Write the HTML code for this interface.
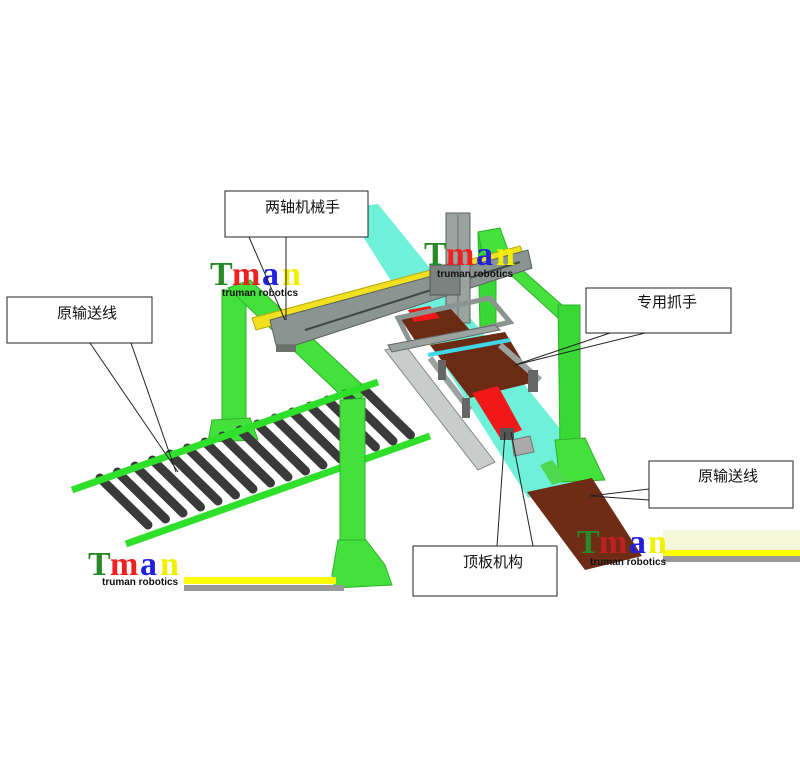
<!DOCTYPE html>
<html><head><meta charset="utf-8"><style>
html,body{margin:0;padding:0;background:#fff;width:800px;height:766px;overflow:hidden}
svg{display:block}
text{font-family:"Liberation Sans","Noto Sans CJK SC",sans-serif}
.lg{font-family:"Liberation Serif",serif;font-size:34px;font-weight:bold}
</style></head><body>
<svg width="800" height="766" viewBox="0 0 800 766" xmlns="http://www.w3.org/2000/svg">
<!-- cyan belt -->
<polygon points="345,208 378,204 600,478 528,498" fill="#6ff0d8"/>
<!-- right gantry arch -->
<polygon points="478,232 496,230 496,330 480,330" fill="#3ad834" stroke="#2fb02a"/>
<polygon points="478,232 500,228 508,250 520,268 562,305 580,305 580,318 558,318 512,276 496,262 482,252" fill="#44e03c" stroke="#2fb02a"/>
<polygon points="558,305 580,305 580,450 560,450" fill="#3ad834" stroke="#2fb02a"/>
<polygon points="555,440 585,438 600,470 605,480 560,482" fill="#44e03c" stroke="#2fb02a"/>
<polygon points="540,465 552,460 568,480 552,485" fill="#4ed84e"/>
<!-- left gantry back leg and beam -->
<polygon points="222,290 246,290 246,420 222,420" fill="#44e03c" stroke="#2fb02a"/>
<polygon points="212,420 250,418 258,440 208,442" fill="#44e03c" stroke="#2fb02a"/>
<polygon points="228,288 250,280 370,392 350,404" fill="#44e03c" stroke="#2fb02a"/>
<!-- yellow rail and gray beam -->
<polygon points="252,318 520,246 524,256 256,330" fill="#f0e020" stroke="#b8a800"/>
<polygon points="270,320 528,250 532,268 296,345 276,345" fill="#8a9490" stroke="#5a625e"/>
<polygon points="276,345 296,345 296,352 276,352" fill="#6a726e"/>
<line x1="305" y1="330" x2="520" y2="262" stroke="#404846" stroke-width="2"/>
<!-- vertical column -->
<rect x="446" y="213" width="24" height="110" fill="#9aa3a0" stroke="#5a625e"/>
<line x1="458" y1="215" x2="458" y2="320" stroke="#6a726e"/>
<rect x="430" y="265" width="30" height="30" fill="#7a8380" stroke="#505856"/>
<!-- lower conveyor slab (gray) -->
<polygon points="385,350 405,345 495,462 478,470" fill="#c8ccca" stroke="#888"/>
<!-- brown plates under gripper -->
<polygon points="400,318 450,308 470,330 418,345" fill="#6a2a14"/>
<polygon points="430,345 505,332 535,382 470,398" fill="#6a2a14"/>
<!-- red bar -->
<polygon points="408,310 430,306 440,318 414,322" fill="#f01818"/>
<polygon points="472,393 498,386 522,430 500,438" fill="#f01818"/>
<rect x="500" y="428" width="14" height="12" fill="#555"/>
<!-- gripper frame -->
<polygon points="398,318 490,298 510,322 412,346" fill="none" stroke="#8a9490" stroke-width="5"/>
<polygon points="388,345 495,325 500,330 392,352" fill="#9aa3a0" stroke="#666"/>
<line x1="428" y1="355" x2="510" y2="340" stroke="#40d8e8" stroke-width="4"/>
<line x1="500" y1="345" x2="540" y2="380" stroke="#9aa3a0" stroke-width="6"/>
<line x1="430" y1="358" x2="470" y2="410" stroke="#9aa3a0" stroke-width="6"/>
<rect x="528" y="370" width="10" height="22" fill="#666"/>
<rect x="462" y="398" width="8" height="20" fill="#666"/>
<rect x="438" y="360" width="8" height="20" fill="#666"/>
<polygon points="512,440 530,436 534,452 514,456" fill="#aaa" stroke="#777"/>
<!-- right brown plate -->
<polygon points="527,492 592,478 642,556 585,570" fill="#6e2c16"/>
<!-- roller conveyor -->
<g stroke="#3a3a3a" stroke-width="9" stroke-linecap="round">
<line x1="100" y1="478" x2="148" y2="525"/><line x1="117.5" y1="472" x2="165.5" y2="519"/>
<line x1="135" y1="466" x2="183" y2="513"/><line x1="152.5" y1="460" x2="200.5" y2="507"/>
<line x1="170" y1="454" x2="218" y2="501"/><line x1="187.5" y1="448" x2="235.5" y2="495"/>
<line x1="205" y1="442" x2="253" y2="489"/><line x1="222.5" y1="436" x2="270.5" y2="483"/>
<line x1="240" y1="430" x2="288" y2="477"/><line x1="257.5" y1="424" x2="305.5" y2="471"/>
<line x1="275" y1="418" x2="323" y2="465"/><line x1="292.5" y1="412" x2="340.5" y2="459"/>
<line x1="310" y1="406" x2="358" y2="453"/><line x1="327.5" y1="400" x2="375.5" y2="447"/>
<line x1="345" y1="394" x2="393" y2="441"/><line x1="362.5" y1="388" x2="410.5" y2="435"/>
</g>
<line x1="72" y1="490" x2="378" y2="382" stroke="#2fe02a" stroke-width="7"/>
<line x1="126" y1="544" x2="430" y2="436" stroke="#2fe02a" stroke-width="7"/>
<!-- front leg -->
<polygon points="340,400 365,398 365,545 340,545" fill="#44e03c" stroke="#2fb02a"/>
<polygon points="338,540 366,540 385,565 392,585 335,588 332,575" fill="#44e03c" stroke="#2fb02a"/>
<!-- bars near logos -->
<rect x="184" y="577" width="152" height="7" fill="#ffff00"/>
<rect x="184" y="585" width="160" height="6" fill="#999"/>
<rect x="663" y="530" width="137" height="20" fill="#f4f8d8"/>
<rect x="663" y="550" width="137" height="6" fill="#ffff00"/>
<rect x="663" y="556" width="137" height="6" fill="#999"/>
<!-- logos -->
<g>
<text x="210" y="285" class="lg" fill="#2a8a2a">T</text><text x="232" y="285" class="lg" fill="#f02020">m</text><text x="262" y="285" class="lg" fill="#2020e0">a</text><text x="282" y="285" class="lg" fill="#f0f000">n</text>
<text x="222" y="296" font-size="10" font-weight="bold" fill="#111">truman robotics</text>
</g>
<g>
<text x="424" y="265" class="lg" fill="#2a8a2a">T</text><text x="446" y="265" class="lg" fill="#f02020">m</text><text x="476" y="265" class="lg" fill="#2020e0">a</text><text x="496" y="265" class="lg" fill="#f0f000">n</text>
<text x="437" y="277" font-size="10" font-weight="bold" fill="#111">truman robotics</text>
</g>
<g>
<text x="88" y="575" class="lg" fill="#2a8a2a">T</text><text x="110" y="575" class="lg" fill="#f02020">m</text><text x="140" y="575" class="lg" fill="#2020e0">a</text><text x="160" y="575" class="lg" fill="#f0f000">n</text>
<text x="102" y="585" font-size="10" font-weight="bold" fill="#111">truman robotics</text>
</g>
<g>
<text x="577" y="553" class="lg" fill="#2a8a2a">T</text><text x="599" y="553" class="lg" fill="#c02020">m</text><text x="629" y="553" class="lg" fill="#2020e0">a</text><text x="648" y="553" class="lg" fill="#f0f000">n</text>
<text x="590" y="565" font-size="10" font-weight="bold" fill="#111">truman robotics</text>
</g>
<!-- callouts -->
<g fill="#fff" stroke="#222" stroke-width="1">
<rect x="225" y="191" width="143" height="46"/>
<rect x="7" y="297" width="145" height="46"/>
<rect x="586" y="288" width="145" height="45"/>
<rect x="649" y="461" width="144" height="47"/>
<rect x="413" y="546" width="144" height="50"/>
</g>
<g stroke="#222" stroke-width="1">
<line x1="249" y1="237" x2="285" y2="320"/><line x1="286" y1="237" x2="286" y2="320"/>
<line x1="90" y1="343" x2="178" y2="472"/><line x1="131" y1="343" x2="176" y2="472"/>
<line x1="610" y1="333" x2="515" y2="365"/><line x1="645" y1="333" x2="515" y2="365"/>
<line x1="649" y1="489" x2="590" y2="496"/><line x1="649" y1="500" x2="590" y2="496"/>
<line x1="497" y1="546" x2="505" y2="432"/><line x1="533" y1="546" x2="511" y2="432"/>
</g>
<g font-size="15" fill="#111">
<text x="265" y="212">两轴机械手</text>
<text x="57" y="318">原输送线</text>
<text x="637" y="307">专用抓手</text>
<text x="698" y="481">原输送线</text>
<text x="463" y="567">顶板机构</text>
</g>
</svg>
</body></html>
